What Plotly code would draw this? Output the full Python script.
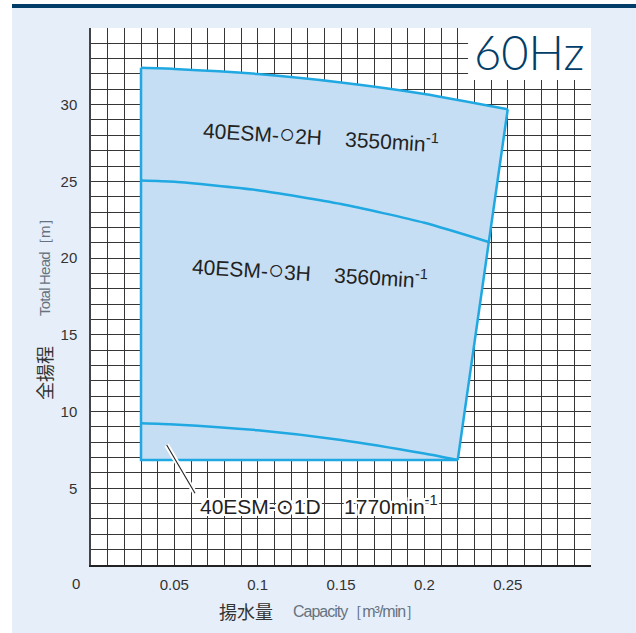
import plotly.graph_objects as go

# ---------------- data ----------------
top_q = [0.03, 0.05, 0.10, 0.15, 0.20, 0.25]          # 40ESM-○2H upper limit
top_h = [32.4, 32.33, 32.0, 31.45, 30.7, 29.7]
mid_q = [0.03, 0.05, 0.10, 0.15, 0.20, 0.2385]        # 2H / 3H boundary
mid_h = [25.05, 24.97, 24.42, 23.52, 22.3, 21.05]
d1_q = [0.03, 0.05, 0.10, 0.15, 0.20, 0.22]           # 40ESM-⊙1D upper limit
d1_h = [9.24, 9.16, 8.78, 8.15, 7.26, 6.84]
q_min = 0.03
h_min = 6.84

x_ticks = [0.05, 0.10, 0.15, 0.20, 0.25]
x_tick_text = ["0.05", "0.1", "0.15", "0.2", "0.25"]
y_ticks = [5, 10, 15, 20, 25, 30]

CIRC = '<span style="font-size:27px">○</span>'
label_2h = f"40ESM-{CIRC}2H\u00a0\u00a0\u00a0\u00a03550min<sup>-1</sup>"
label_3h = f"40ESM-{CIRC}3H\u00a0\u00a0\u00a0\u00a03560min<sup>-1</sup>"
label_1d = "40ESM-⊙1D\u00a0\u00a0\u00a0\u00a01770min<sup>-1</sup>"
x_title_en = '<span style="letter-spacing:-1px">Capacity［m³/min］</span>'
y_title_en = '<span style="letter-spacing:-0.8px">Total Head［m］</span>'

W, H = 636, 633
ML, MR, MT, MB = 91, 45, 28, 68
PW, PH = W - ML - MR, H - MT - MB


def px(x):
    return (x - ML) / PW


def py(y):
    return (H - MB - y) / PH


LINE = "#1FA8E1"
FILL = "#C6DEF3"
BG = "#E6EFF9"
NAVY = "#003D68"
BASE = "Liberation Sans, Arial, sans-serif"
NARROW = "Liberation Sans Narrow, Liberation Sans, sans-serif"
CJK = "Noto Sans CJK JP, sans-serif"

fig = go.Figure()

# filled operating region
fig.add_trace(go.Scatter(
    x=top_q + [d1_q[-1], q_min],
    y=top_h + [h_min, h_min],
    fill="toself", fillcolor=FILL, mode="lines",
    line=dict(width=0, color=FILL), hoverinfo="skip", showlegend=False))

# curves
for qs, hs in [(top_q, top_h), (mid_q, mid_h), (d1_q, d1_h)]:
    fig.add_trace(go.Scatter(x=qs, y=hs, mode="lines",
                             line=dict(color=LINE, width=2.5, shape="spline", smoothing=0.6),
                             hoverinfo="skip", showlegend=False))
# straight edges
fig.add_trace(go.Scatter(x=[top_q[-1], d1_q[-1]], y=[top_h[-1], h_min], mode="lines",
                         line=dict(color=LINE, width=2.5), showlegend=False, hoverinfo="skip"))
fig.add_trace(go.Scatter(x=[d1_q[-1], q_min, q_min], y=[h_min, h_min, top_h[0]], mode="lines",
                         line=dict(color=LINE, width=2.5), showlegend=False, hoverinfo="skip"))

# leader line for 1D label (white halo + dark line)
lead_q = [0.0454, 0.0624]
lead_h = [7.82, 4.67]
fig.add_trace(go.Scatter(x=lead_q, y=lead_h, mode="lines",
                         line=dict(color="white", width=5), showlegend=False, hoverinfo="skip"))
fig.add_trace(go.Scatter(x=lead_q, y=lead_h, mode="lines",
                         line=dict(color="#222222", width=1.1), showlegend=False, hoverinfo="skip"))

shapes = [
    # page decorations
    dict(type="rect", xref="paper", yref="paper", x0=px(0), x1=px(12), y0=py(H), y1=py(0),
         fillcolor="white", line=dict(width=0), layer="below"),
    dict(type="rect", xref="paper", yref="paper", x0=px(0), x1=px(W), y0=py(4), y1=py(0),
         fillcolor="white", line=dict(width=0), layer="below"),
    dict(type="rect", xref="paper", yref="paper", x0=px(12), x1=px(W), y0=py(8), y1=py(4),
         fillcolor=NAVY, line=dict(width=0), layer="below"),
    # white box behind 60Hz
    dict(type="rect", xref="x", yref="y", x0=0.2262, x1=0.3, y0=31.6, y1=35,
         fillcolor="white", line=dict(width=0), layer="above"),
]

halo = ", ".join(f"{a}px {b}px 0px white" for a, b in
                 [(2, 0), (-2, 0), (0, 2), (0, -2), (2, 2), (-2, -2), (2, -2), (-2, 2),
                  (1, 2), (2, 1), (-1, 2), (-2, 1), (1, -2), (2, -1), (-1, -2), (-2, -1)])

C = dict(xanchor="center", yanchor="middle", showarrow=False)
annotations = [
    dict(x=0.263, y=33.4, xref="x", yref="y", text="60Hz", **C,
         font=dict(family="Lato, Open Sans, sans-serif", size=47, color=NAVY, weight=300)),
    dict(x=0.138, y=27.97, xref="x", yref="y", text=label_2h, textangle=3.5, **C,
         font=dict(family=BASE, size=21, color="#222222")),
    dict(x=0.1314, y=19.1, xref="x", yref="y", text=label_3h, textangle=3.5, **C,
         font=dict(family=BASE, size=21, color="#222222")),
    dict(x=0.1365, y=3.91, xref="x", yref="y", text=label_1d, **C,
         font=dict(family=BASE, size=21, color="#222222", shadow=halo)),
    dict(x=px(76), y=py(583), xref="paper", yref="paper", text="0", **C,
         font=dict(family=BASE, size=15, color="#333333")),
    # x title
    dict(x=px(246), y=py(611), xref="paper", yref="paper", text="揚水量", **C,
         font=dict(family=CJK, size=18, color="#333333")),
    dict(x=px(356), y=py(611), xref="paper", yref="paper", text=x_title_en, **C,
         font=dict(family=NARROW, size=16, color="#66727e")),
    # y title
    dict(x=px(44), y=py(373), xref="paper", yref="paper", text="全揚程", textangle=-90, **C,
         font=dict(family=CJK, size=18, color="#333333")),
    dict(x=px(44), y=py(264), xref="paper", yref="paper", text=y_title_en,
         textangle=-90, **C, font=dict(family=NARROW, size=15, color="#66727e")),
]

GRID = "#363636"
fig.update_layout(
    width=W, height=H,
    margin=dict(l=ML, r=MR, t=MT, b=MB, pad=0),
    paper_bgcolor=BG, plot_bgcolor="white",
    shapes=shapes, annotations=annotations,
    showlegend=False,
    xaxis=dict(range=[0, 0.29995], tickvals=x_ticks, ticktext=x_tick_text,
               showgrid=True, gridcolor=GRID, gridwidth=1.1,
               minor=dict(dtick=0.01, tick0=0, showgrid=True, gridcolor=GRID, gridwidth=1.1),
               showline=True, linecolor="#222222", linewidth=1.5,
               ticks="outside", ticklen=5, tickcolor="rgba(0,0,0,0)",
               tickfont=dict(family=BASE, size=15, color="#333333"),
               zeroline=False, fixedrange=True),
    yaxis=dict(range=[0, 34.995], tickvals=y_ticks,
               showgrid=True, gridcolor=GRID, gridwidth=1.1,
               minor=dict(dtick=1, tick0=0, showgrid=True, gridcolor=GRID, gridwidth=1.1),
               showline=True, linecolor="#444444", linewidth=1.5,
               ticks="outside", ticklen=9, tickcolor="rgba(0,0,0,0)",
               tickfont=dict(family=BASE, size=15, color="#333333"),
               zeroline=False, fixedrange=True),
)

fig.write_html("out.html", config={"displayModeBar": False},
               post_script="document.body.style.margin='0px';document.body.style.overflow='hidden';")
